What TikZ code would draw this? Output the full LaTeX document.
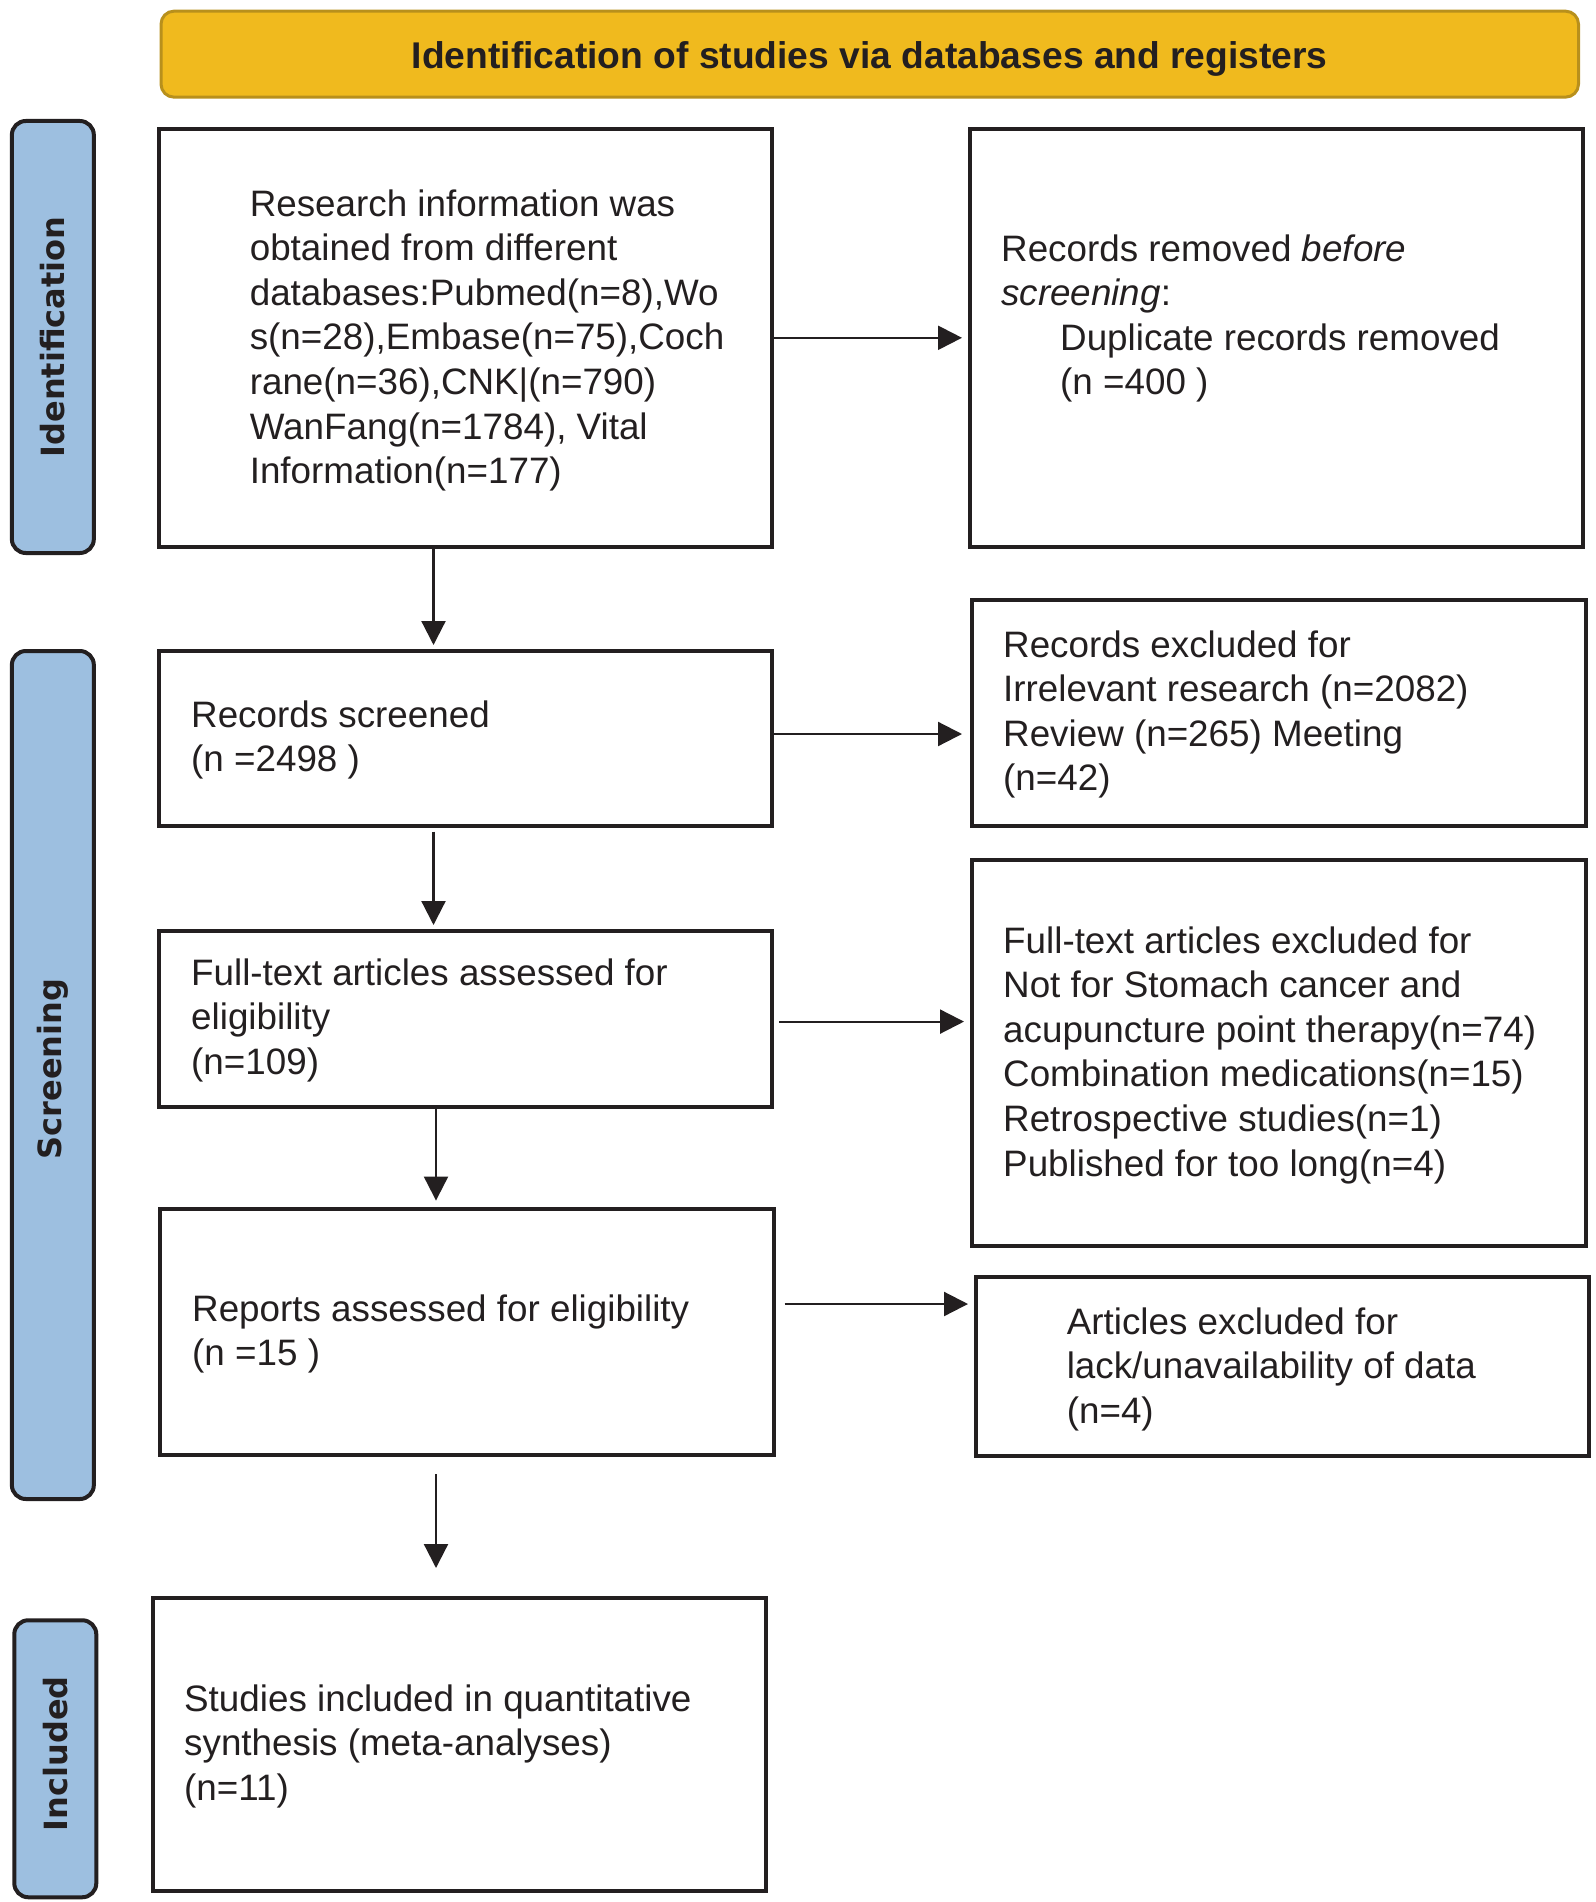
\documentclass[tikz,border=0pt]{standalone}
\usepackage{fontspec}
\setmainfont{Liberation Sans}
\newfontfamily\sidefont{DejaVu Sans}
\usetikzlibrary{arrows.meta}
\definecolor{ink}{HTML}{231F20}
\definecolor{hdrfill}{HTML}{F0BA1E}
\definecolor{hdrline}{HTML}{B8901C}
\definecolor{tabfill}{HTML}{9DBFE0}
\begin{document}
\begin{tikzpicture}[x=1pt,y=-1pt,
  hdrbox/.style={draw=hdrline,fill=hdrfill,line width=3pt,rounded corners=13pt,inner sep=0pt},
  hdrtxt/.style={inner sep=0pt,font=\fontsize{37.2}{44}\selectfont\bfseries,text=ink},
  tabbox/.style={draw=ink,fill=tabfill,line width=4pt,rounded corners=14pt,inner sep=0pt},
  tabtxt/.style={rotate=90,font=\sidefont\bfseries\fontsize{32}{38}\selectfont,text=ink,inner sep=0pt},
  flowbox/.style={draw=ink,line width=4pt,inner sep=0pt},
  txt/.style={anchor=base west,align=left,inner sep=0pt,text=ink,
    font=\fontsize{36.8}{44.6}\selectfont},
  arr/.style={draw=ink,line width=2.2pt,-{Triangle[length=24pt,width=24pt]}}
]
\useasboundingbox (0,0) rectangle (1595,1902);

% header
\node[hdrbox,minimum width=1417.5pt,minimum height=86pt] (hdr) at (869.75,54.15) {};
\node[hdrtxt] (hdrt) at ([yshift=-4.5pt]hdr.center) {Identification of studies via databases and registers};

% side tabs
\node[tabbox,minimum width=82pt,minimum height=432pt] (tabI) at (52.85,337) {};
\node[tabtxt] (tabIt) at (tabI.center) {Identification};
\node[tabbox,minimum width=82pt,minimum height=848pt] (tabS) at (52.85,1075) {};
\node[tabtxt] (tabSt) at ([yshift=6pt]tabS.center) {Screening};
\node[tabbox,minimum width=82pt,minimum height=277pt] (tabN) at (55.3,1758.75) {};
\node[tabtxt] (tabNt) at ([yshift=5pt]tabN.center) {Included};

% boxes
\node[flowbox,minimum width=613pt,minimum height=418.4pt] (b1) at (465.5,337.8) {};
\node[flowbox,minimum width=613pt,minimum height=418.4pt] (b2) at (1276.5,337.8) {};
\node[flowbox,minimum width=613pt,minimum height=175pt] (b3) at (465.5,738.5) {};
\node[flowbox,minimum width=614pt,minimum height=226pt] (b4) at (1279,713) {};
\node[flowbox,minimum width=613pt,minimum height=176pt] (b5) at (465.5,1019) {};
\node[flowbox,minimum width=614pt,minimum height=386pt] (b6) at (1279,1053) {};
\node[flowbox,minimum width=613.6pt,minimum height=246.9pt] (b7) at (466.8,1332) {};
\node[flowbox,minimum width=613.4pt,minimum height=178.5pt] (b8) at (1282.7,1366.25) {};
\node[flowbox,minimum width=613pt,minimum height=293pt] (b9) at (459.5,1744.5) {};

% texts (anchored at the baseline of their last line)
\node[txt] (t1) at (249.6,483.6) {Research information was\\obtained from different\\databases:Pubmed(n=8),Wo\\s(n=28),Embase(n=75),Coch\\rane(n=36),CNK|(n=790)\\WanFang(n=1784), Vital\\Information(n=177)};
\node[txt] (t2) at (1001,394.8) {Records removed \textit{before}\\\textit{screening}:\\\hspace*{59pt}Duplicate records removed\\\hspace*{59pt}(n =400 )};
\node[txt] (t3) at (191,771.6) {Records screened\\(n =2498 )};
\node[txt] (t4) at (1003,790.8) {Records excluded for\\Irrelevant research (n=2082)\\Review (n=265) Meeting\\(n=42)};
\node[txt] (t5) at (191,1074.2) {Full-text articles assessed for\\eligibility\\(n=109)};
\node[txt] (t6) at (1003,1176) {Full-text articles excluded for\\Not for Stomach cancer and\\acupuncture point therapy(n=74)\\Combination medications(n=15)\\Retrospective studies(n=1)\\Published for too long(n=4)};
\node[txt] (t7) at (192,1365.6) {Reports assessed for eligibility\\(n =15 )};
\node[txt] (t8) at (1066.6,1423.2) {Articles excluded for\\lack/unavailability of data\\(n=4)};
\node[txt] (t9) at (184,1800.2) {Studies included in quantitative\\synthesis (meta-analyses)\\(n=11)};

% horizontal connectors
\coordinate (h1) at (b1.east);
\draw[arr,shorten >=6pt] (h1) -- (h1 -| b2.west);
\coordinate (h2) at ([yshift=4.5pt]b3.east);
\draw[arr,shorten >=8pt] (h2) -- (h2 -| b4.west);
\coordinate (h3) at ([yshift=-2.6pt]b5.east);
\draw[arr,shorten <=5pt,shorten >=6pt] (h3) -- (h3 -| b6.west);
\coordinate (h4) at ([yshift=28pt]b7.east);
\draw[arr,shorten <=9pt,shorten >=6pt] (h4) -- (h4 -| b8.west);

% vertical connectors
\coordinate (v1) at ([xshift=-32pt]b1.south);
\draw[arr,shorten >=4pt] (v1) -- (v1 |- b3.north);
\coordinate (v2) at ([xshift=-32pt]b3.south);
\draw[arr,shorten <=3.6pt,shorten >=4pt] (v2) -- (v2 |- b5.north);
\coordinate (v3) at ([xshift=-29.5pt]b5.south);
\draw[arr,shorten >=6pt] (v3) -- (v3 |- b7.north);
\coordinate (v4) at ([xshift=-30.8pt]b7.south);
\draw[arr,shorten <=17pt,shorten >=28pt] (v4) -- (v4 |- b9.north);
\end{tikzpicture}
\end{document}
